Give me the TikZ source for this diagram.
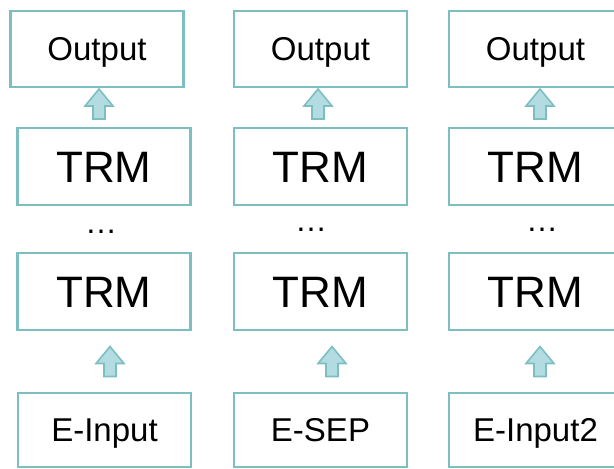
\documentclass[tikz,border=0pt]{standalone}
\usepackage{fontspec}
\setmainfont{Liberation Sans}
\definecolor{boxline}{RGB}{125,190,192}
\definecolor{arrfill}{RGB}{178,220,226}
\begin{document}
\begin{tikzpicture}[x=1pt,y=1pt,
  box/.style={draw=boxline, line width=2.6pt, fill=white, minimum width=173pt, inner sep=0pt, anchor=center, text depth=0pt},
  outbox/.style={box, minimum height=76pt, text height=23.6pt, font=\fontsize{33}{36}\selectfont},
  trmbox/.style={box, minimum height=77pt, text height=31.5pt, font=\fontsize{44}{48}\selectfont},
  inbox/.style={box, minimum height=74pt, text height=23.6pt, font=\fontsize{33}{36}\selectfont},
  dots/.style={inner sep=0pt, text height=3pt, text depth=0pt, font=\fontsize{32}{36}\selectfont},
  uparr/.pic={\draw[draw=boxline, fill=arrfill, line width=1.6pt, line join=miter]
     (-6,-15) -- (-6,-2) -- (-14,-2) -- (0,15) -- (14,-2) -- (6,-2) -- (6,-15) -- cycle;}
]
\useasboundingbox (0,0) rectangle (614,-469);
% column 1
\node[outbox] (o1) at (97,-49) {Output};
\node[trmbox] (ta1) at (104,-166.5) {TRM};
\node[dots] (d1) at (101,-232) {\ldots};
\node[trmbox] (tb1) at (104,-291.5) {TRM};
\node[inbox] (e1) at (104.5,-430) {E-Input};
\pic at (99,-104) {uparr};
\pic at (110,-361.5) {uparr};
% column 2
\node[outbox] (o2) at (320.5,-49) {Output};
\node[trmbox] (ta2) at (320.5,-166.5) {TRM};
\node[dots] (d2) at (311,-230) {\ldots};
\node[trmbox] (tb2) at (320.5,-291.5) {TRM};
\node[inbox] (e2) at (320.5,-430) {E-SEP};
\pic at (318,-104) {uparr};
\pic at (332,-361.5) {uparr};
% column 3
\node[outbox] (o3) at (535.5,-49) {Output};
\node[trmbox] (ta3) at (535.5,-166.5) {TRM};
\node[dots] (d3) at (542,-230) {\ldots};
\node[trmbox] (tb3) at (535.5,-291.5) {TRM};
\node[inbox] (e3) at (535.5,-430) {E-Input2};
\pic at (540,-104) {uparr};
\pic at (540,-361.5) {uparr};
\end{tikzpicture}
\end{document}
